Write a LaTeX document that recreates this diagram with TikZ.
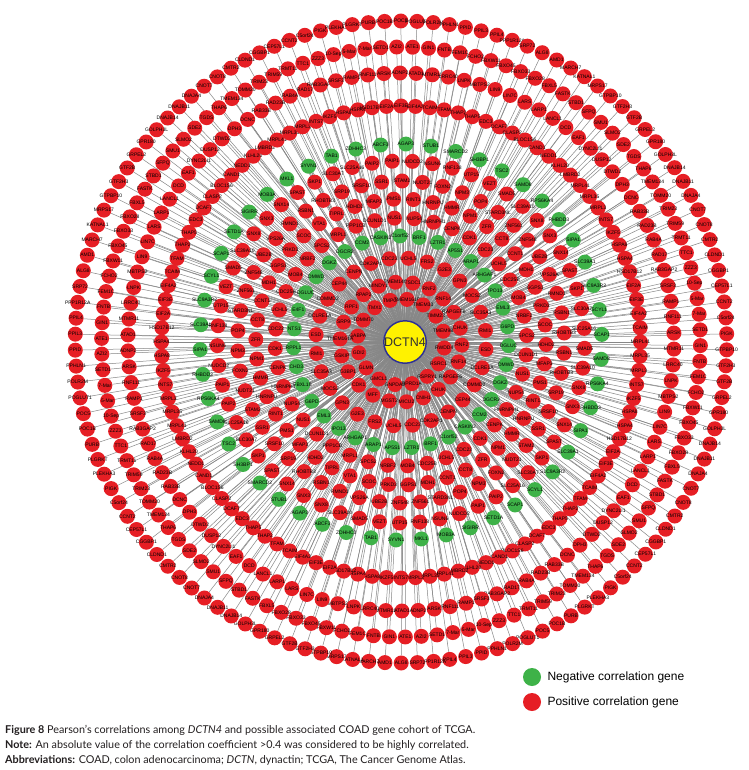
\documentclass[tikz,border=0pt]{standalone}
\usepackage{fontspec}
\setmainfont{Liberation Sans}
\newfontfamily\capfont{Lato}
\pgfdeclarelayer{bg}
\pgfsetlayers{bg,main}
\definecolor{nred}{RGB}{230,30,36}
\definecolor{ngreen}{RGB}{62,178,72}
\definecolor{nyel}{RGB}{255,242,0}
\definecolor{nblue}{RGB}{46,49,146}
\definecolor{edgegray}{RGB}{135,135,135}
\definecolor{captxt}{RGB}{35,31,32}
\tikzset{
  gene/.style={circle, inner sep=0pt, minimum size=15pt},
  posgene/.style={gene, fill=nred},
  neggene/.style={gene, fill=ngreen},
  edge/.style={draw=edgegray, line width=0.5pt},
  hub/.style={circle, fill=nyel, draw=nblue, line width=1.5pt, minimum size=30pt, inner sep=0pt,
    font=\fontsize{12.5}{12.5}\selectfont, text=black!80},
  every label/.style={font=\fontsize{5}{5}\selectfont, inner sep=0pt, text=black},
  legdot/.style={circle, inner sep=0pt, minimum size=18pt},
  legtxt/.style={anchor=west, font=\fontsize{12}{14}\selectfont, text=black},
  captline/.style={anchor=base west, inner sep=0pt, font=\capfont\fontsize{10.8}{12}\selectfont, text=captxt},
}
\def\cx{401}
\def\cy{342}
% #1 id, #2 radius, #3 count, #4 start angle, #5 style, #6 names array
\newcommand\genering[6]{%
  \pgfmathtruncatemacro\kk{dim(#6)}%
  \foreach \i in {1,...,#3}{%
    \pgfmathsetmacro\ang{#4+(\i-1)/#3*360}%
    \pgfmathsetmacro\px{\cx+1.015*#2*cos(\ang)}%
    \pgfmathsetmacro\py{\cy+#2*sin(\ang)}%
    \pgfmathtruncatemacro\k{mod(\i-1,\kk)}%
    \pgfmathsetmacro\nm{#6[\k]}%
    \node[#5, label={center:\nm}] (g#1-\i) at (\px,\py) {};
  }%
}
\def\namesA{{"GTPBP10","GTF2H3","GTF2B","GRPEL2","GPR180","GOLPH3L","DNAJB14","DNAJB11","DNAJA4","CNOT7","CNOT8","CMTR2","CLDND1","CGGBP1","CEP57L1","CCNT2","C5orf24","PIGK","PLEKHA3","PLGRKT","PURB","POC1B","POC5","POGLUT1","POLR2M","PPHLN1","PPID","PPIL3","PPIL4","PPP1R12A","SRP72","ALG8","AMD1","MARCH7","KATNAL1","MRPS17"}}
\def\namesB{{"GIN1","FNTB","FEM1C","FCHO2","FBXW11","FBXO45","FBXO33","FBXO28","FBXL5","FASTK","STBD1","SFPQ","SMU1","SLMO2","SDE2","TGDS","THAP6","TMEM134","TOMM20","TRIM23","TRIM59","TRMT11","TTC1","ZZZ3","10-Sep","5-Mar","7-Mar","SETD1","AZI2","ATE1"}}
\def\namesC{{"MTMR11","LRRC40","LNPK","MBTPS2","LIN9","LIN7C","LARS","LARP1","LANCL1","DCD","EAF1","DYNC2LI1","DUSP12","DTWD2","DPH3","DCNC","RAB33B","RAD23B","RAB4A","RAD17","RAB3GAP2","SRSF3","RAMP1","RNF111","ARSK","ADNP2","ATAD1"}}
\def\namesD{{"MRPL41","MRPL35","MRPL3","INTS7","IKZF5","HSPA8","HSPA4","HSD17B12","EIF2A","EIF3E","EIF4A2","TCAIM","TFAM","THAP2","THAP5","EDC3","DCAF7","CLASP2","BLOC1S6","CAND1","NEDD1","KLHL20","LMBRD2"}}
\def\namesE{{"SAMD8","RPS6KA4","RHBDD3","SIPA1","SLC39A1","SLC9A3R2","SCYL1","SCAP1","SETD1A","SIGIRR","MOB3A","MKL1","SYVN1","TAB1","ZDHHC3","ABCF3","AGAP3","STUB1","SMARCD2","SH3BP1","TSC2"}}
\def\namesF{{"SMAD5","SLC39A10","SNX8","SNX3","SNX14","SPAST","SKP1","SLC30A7","SLC25A16","PAIP2","PAIP1","NUDCD2","NSUN6","RNF138","UTP15","VEZT"}}
\def\namesG{{"RSBN1","RHOBTB3","SRP19","SRSF10","SSR1","STAM2","NUDT21","FOXN2","NPM3","POP4","STARD3NL","ZNF561","ZNF548","UBE2B","VPS26A","RMND1"}}
\def\namesH{{"HDHD2","MFAP3","PMS1","RINT1","HNRNPU","HMMR","NPM1","ZFR","CCT8","CCNT1","MDH1","GGPS1","PRKD3","SCOC","VTA1","TIPRL"}}
\def\namesI{{"DCUN1D1","NUS1","NUP54","HNRNPH1","CENPK","CDK1","CDC23","UCHL5","CDC25B","MOB4","NRBF2","SPCS2","MRPL1","PPP1CB"}}
\def\namesJ{{"DGLUC","DMWD","DGKZ","DGCR2","CCM2","CASKIN2","C1orf52","BRF1","LZTR1","AP5S1","ARAP1","ARHGAP1","IPO13","EML3","G6PD","FBXL19","CHD3","RPPL1","NTS1","E4F1"}}
\def\namesK{{"ESD","DCLRE1A","COMMD2","CEP44","CENPN","CDK2AP1","CDC23","UCHL5","FRS2","G2E3","GPN3","MOCS2","SLC35A3","RMI1"}}
\def\namesL{{"RNF2","RNF14","RAPGEF6","CHUK","CNIH1","MICU2","MGST2","MFF","CDK1","G3BP1","GSKIP","TMEM161A","SRP9","RPF1","RPAP2","MINDY1","TMEM14C","TSDC1"}}
\def\namesM{{"RWDD4","RSRC1","RSPRY1","RPRD1A","GNPDA2","GMCL1","GLMN","GDI2","GABPA","TOMM70","TMX1","TMPO","TMEM161B","TMEM33","TIMM23","TMEM9B"}}
\begin{document}
\begin{tikzpicture}[x=1pt,y=-1pt]
\useasboundingbox (0,0) rectangle (748,770);
\node[hub] (hub) at (405,342) {DCTN4};
\genering{m}{43}{16}{8}{posgene}{\namesM}
\genering{l}{60}{22}{3}{posgene}{\namesL}
\genering{k}{84}{28}{5}{posgene}{\namesK}
\genering{j}{106}{35}{2}{neggene}{\namesJ}
\genering{i}{124}{40}{6}{posgene}{\namesI}
\genering{h}{143}{46}{1}{posgene}{\namesH}
\genering{gg}{161}{50}{4}{posgene}{\namesG}
\genering{f}{181}{57}{2}{posgene}{\namesF}
\genering{e}{198}{50}{5}{neggene}{\namesE}
\genering{d}{236}{104}{0}{posgene}{\namesD}
\genering{c}{269}{106}{1.5}{posgene}{\namesC}
\genering{b}{295}{118}{0.7}{posgene}{\namesB}
\genering{a}{321}{126}{1.4}{posgene}{\namesA}
\begin{pgfonlayer}{bg}
\fill[white] (0,0) rectangle (748,770);
\foreach \id/\n in {m/16,l/22,k/28,j/35,i/40,h/46,gg/50,f/57,e/50,d/104,c/106,b/118,a/126}{
  \foreach \i in {1,...,\n}{\draw[edge] (hub) -- (g\id-\i);}
}
\end{pgfonlayer}
% legend
\node[legdot, fill=ngreen] (lgneg) at (532,677) {};
\node[legtxt] (lgnegt) at (544,677) {Negative correlation gene};
\node[legdot, fill=nred] (lgpos) at (532,702) {};
\node[legtxt] (lgpost) at (544,702) {Positive correlation gene};
% caption
\node[captline] (cap1) at (5,733) {\textbf{Figure 8} Pearson’s correlations among \textit{DCTN4} and possible associated COAD gene cohort of TCGA.};
\node[captline] (cap2) at (5,748) {\textbf{Note:} An absolute value of the correlation coefficient >0.4 was considered to be highly correlated.};
\node[captline] (cap3) at (5,763) {\textbf{Abbreviations:} COAD, colon adenocarcinoma; \textit{DCTN}, dynactin; TCGA, The Cancer Genome Atlas.};
\end{tikzpicture}
\end{document}
